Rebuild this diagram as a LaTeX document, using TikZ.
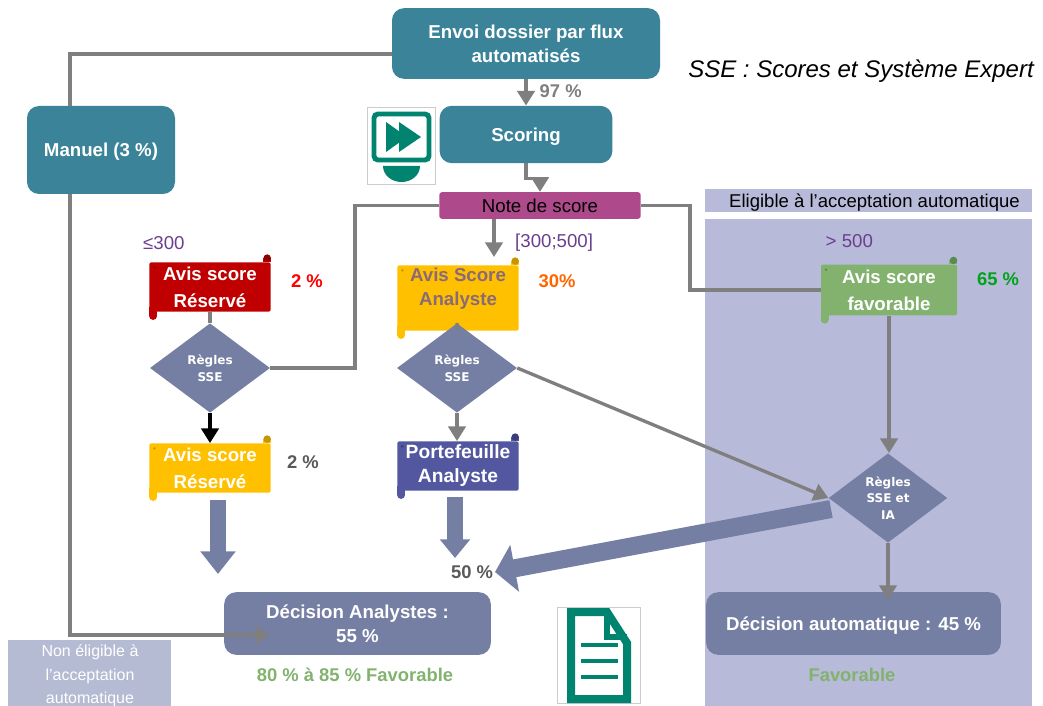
\documentclass[tikz,border=0pt]{standalone}
\usepackage{fontspec}
\setmainfont{Liberation Sans}
\newfontfamily\rulefont{DejaVu Sans}
\usepackage{tikz}
\usetikzlibrary{arrows,arrows.meta,calc,positioning,shapes.geometric}
\definecolor{tealbox}{HTML}{3B8398}
\definecolor{slatebox}{HTML}{757FA3}
\definecolor{plum}{HTML}{AE4A8C}
\definecolor{zone}{HTML}{B8BAD9}
\definecolor{zonegrey}{HTML}{B4BBD3}
\definecolor{linegrey}{HTML}{7F7F7F}
\definecolor{amber}{HTML}{FFC000}
\definecolor{amberdark}{HTML}{C79500}
\definecolor{crimson}{HTML}{C00000}
\definecolor{crimsondark}{HTML}{8C0000}
\definecolor{leaf}{HTML}{82B26E}
\definecolor{leafdark}{HTML}{5A8A4C}
\definecolor{indigo}{HTML}{5257A0}
\definecolor{indigodark}{HTML}{3A3E78}
\definecolor{pine}{HTML}{00836F}
\definecolor{violettext}{HTML}{6A3F8F}
\definecolor{dullmauve}{HTML}{8A6A7A}
\definecolor{pctgrey}{HTML}{595959}
\tikzset{>=latex}
\tikzset{
  flowbox/.style={rounded corners=9pt,fill=tealbox,text=white,font=\bfseries\fontsize{14}{18}\selectfont,align=center,inner sep=0pt},
  decbox/.style={flowbox,fill=slatebox},
  scrollbox/.style={fill=#1,text=white,font=\bfseries\fontsize{14}{20}\selectfont,align=center,inner sep=0pt,rounded corners=1.5pt},
  ruledia/.style={diamond,fill=slatebox,text=white,font=\rulefont\bfseries\fontsize{9}{12.5}\selectfont,align=center,inner sep=0pt,aspect=1.33},
  link/.style={draw=linegrey,line width=2.5pt},
  linkarrow/.style={link,-{Triangle[length=11pt,width=13pt]}},
  bigarrow/.style={draw=slatebox,line width=12pt},
  pct/.style={font=\bfseries\fontsize{13.8}{16}\selectfont},
  scorerange/.style={text=violettext,font=\fontsize{14}{16}\selectfont}
}
% scroll ends: name, fill colour, curl colour
\newcommand{\scrollends}[3]{
  \fill[#2] ([xshift=-6pt]#1.north east) rectangle ([yshift=3pt]#1.north east);
  \fill[#3] ([xshift=-2.8pt,yshift=3pt]#1.north east) circle (2.8pt);
  \fill[#3] ([xshift=4pt,yshift=-4pt]#1.north west) circle (1pt);
  \fill[#2] ([yshift=4pt]#1.south west) rectangle ([xshift=6pt,yshift=-3pt]#1.south west);
  \fill[#2] ([xshift=3pt,yshift=-3pt]#1.south west) circle (3pt);
}
\begin{document}
\begin{tikzpicture}[x=0.75pt,y=-0.75pt]
  \useasboundingbox (0,0) rectangle (1043,706);
  % zones
  \fill[zone] (705,219) rectangle (1032,706);
  \node[fill=zone,minimum width=245.25pt,minimum height=17pt,inner sep=0pt,text depth=0pt,font=\fontsize{13.9}{16}\selectfont] (eligible) at (868.5,200.5) {\hspace*{9pt}Eligible à l’acceptation automatique};
  \node[fill=zonegrey,text=white,minimum width=122.5pt,minimum height=50pt,inner sep=0pt,align=center,font=\fontsize{12}{17.5}\selectfont] (noneligible) at (89.5,673) {};
  \node[text=white,inner sep=0pt,align=center,font=\fontsize{12}{17.5}\selectfont] (noneligibletxt) at (90,676) {Non éligible à\\l’acceptation\\automatique};

  % boxes
  \node[flowbox,minimum width=201pt,minimum height=53pt] (dossier) at (526,43.5) {Envoi dossier par flux\\automatisés};
  \node[flowbox,minimum width=129.5pt,minimum height=43pt,text depth=0pt] (scoring) at (526,134.5) {Scoring};
  \node[flowbox,minimum width=111pt,minimum height=66pt,text depth=0pt] (manuel) at (101,150) {Manuel (3 \%)};
  \node[fill=plum,rounded corners=2pt,minimum width=151pt,minimum height=20pt,inner sep=0pt,font=\fontsize{14}{16}\selectfont] (note) at (540,205.5) {Note de score};

  % scrolls
  \node[scrollbox=crimson,minimum width=91pt,minimum height=37pt] (reserve) at (210,287) {Avis score\\Réservé};
  \node[scrollbox=amber,minimum width=91pt,minimum height=37pt] (reserveb) at (210,468) {Avis score\\Réservé};
  \node[scrollbox=amber,minimum width=91pt,minimum height=49pt] (analyste) at (458,298) {};
  \node[scrollbox=indigo,minimum width=91pt,minimum height=37pt,font=\bfseries\fontsize{14.4}{18}\selectfont] (portefeuille) at (458,466) {Portefeuille\\Analyste};
  \node[scrollbox=leaf,minimum width=102pt,minimum height=38pt] (favorable) at (889,290) {Avis score\\favorable};
  \scrollends{reserve}{crimson}{crimsondark}
  \scrollends{reserveb}{amber}{amberdark}
  \scrollends{analyste}{amber}{amberdark}
  \scrollends{portefeuille}{indigo}{indigodark}
  \scrollends{favorable}{leaf}{leafdark}
  \node[text=dullmauve,font=\bfseries\fontsize{14}{18}\selectfont,align=center] (analystetxt) at (458,289) {Avis Score\\Analyste};

  % rules
  \node[ruledia,minimum width=90pt,minimum height=67pt] (rule1) at (210,368) {Règles\\SSE};
  \node[ruledia,minimum width=90pt,minimum height=67pt] (rule2) at (457,368) {Règles\\SSE};
  \node[ruledia,minimum width=89pt,minimum height=67pt] (rule3) at (888,498) {Règles\\SSE et\\IA};

  % decisions
  \node[decbox,minimum width=200pt,minimum height=47pt] (decana) at (357.5,623.5) {Décision Analystes :\\55 \%};
  \node[decbox,minimum width=221pt,minimum height=47pt,text depth=0pt] (decauto) at (853.5,623.5) {Décision automatique : 45 \%};

  % labels
  \node[font=\itshape\fontsize{18}{20}\selectfont] (sse) at (861,71.5) {SSE : Scores et Système Expert};
  \node[pct,text=linegrey,right] (p97) at (535,91) {97 \%};
  \node[scorerange,right] (r300) at (138.5,243) {≤300};
  \node[scorerange,right] (r500) at (510.5,243) {[300;500]};
  \node[scorerange,right] (r600) at (821,241) {> 500};
  \node[pct,text=red] (p2) at (307,281) {2 \%};
  \node[pct,text=orange!80!red] (p30) at (557,281) {30\%};
  \node[pct,text=green!60!black!90!cyan] (p65) at (998,279) {65 \%};
  \node[pct,text=pctgrey] (p2b) at (303,462) {2 \%};
  \node[pct,text=pctgrey] (p50) at (472,572) {50 \%};
  \node[pct,text=leaf] (p80) at (355,675) {80 \% à 85 \% Favorable};
  \node[pct,text=leaf] (fav) at (852,675) {Favorable};

  % connectors
  \coordinate (mantop) at (70,106);
  \coordinate (manbot) at (70,194);
  \coordinate (leftup) at (70,54);
  \coordinate (decin) at (270,635);
  \coordinate (notein) at ($(note.south)+(-46,0)$);
  \coordinate (analysteup) at (494,257);
  \coordinate (autotip) at (888,600);
  \draw[linkarrow] (dossier.south) -- (scoring.north);
  \draw[linkarrow] (scoring.south) -- ++(0,15) -| (note.north);
  \draw[linkarrow] (notein) -- (analysteup);
  \draw[link] (note.west) -- (355,205.5) -- (355,368) -- (rule1.east);
  \draw[link] (note.east) -- (690,205.5) -- (690,290) -- (favorable.west);
  \draw[link] (reserve.south) -- (rule1.north);
  \draw[draw=black,line width=2.5pt,-{Triangle[length=11pt,width=13pt]}] (rule1.south) -- (reserveb.north);
  \draw[link] (analyste.south) -- (rule2.north);
  \draw[linkarrow] (rule2.south) -- (rule2.south |- portefeuille.north);
  \draw[linkarrow] (rule2.east) -- (rule3.west);
  \draw[linkarrow] (favorable.south) -- (favorable.south |- rule3.north);
  \draw[linkarrow] (rule3.south) -- (autotip);
  \draw[bigarrow,-{Triangle[length=17pt,width=25.5pt]}] (218,500) -- (218,574);
  \draw[bigarrow,line width=11.5pt,-{Triangle[length=14pt,width=22pt]}] (455,497) -- (455,558);
  \draw[bigarrow,line width=13.5pt,-{Triangle[length=15pt,width=35pt]}] (831,509) -- ([xshift=-2pt]p50.east);
  \draw[link] (leftup -| dossier.west) -- (leftup) -- (mantop);
  \draw[linkarrow] (manbot) -- (70,635) -- (decin);

  % icons
  \draw[gray!40,fill=white] (367,107) rectangle (435,184);
  \draw[pine,line width=3.7pt,rounded corners=3pt,fill=white] (374,114) rectangle (429,160);
  \fill[pine] (386,122) -- (407,137) -- (386,152) -- cycle;
  \fill[pine] (399,122) -- (421,137) -- (399,152) -- cycle;
  \fill[pine] (383,166) -- (420,166) arc (0:180:18.5 and 16) -- cycle;
  \draw[gray!40,fill=white] (557,607) rectangle (640,703);
  \draw[pine,line width=6pt,fill=white,line join=miter] (571,612) -- (607,612) -- (627,643) -- (627,699) -- (571,699) -- cycle;
  \draw[pine,line width=4pt] (607,612) -- (607,637) -- (627,637);
  \foreach \y in {645,661,677} \draw[pine,line width=2.3pt] (581,\y) -- (618,\y);
\end{tikzpicture}
\end{document}
